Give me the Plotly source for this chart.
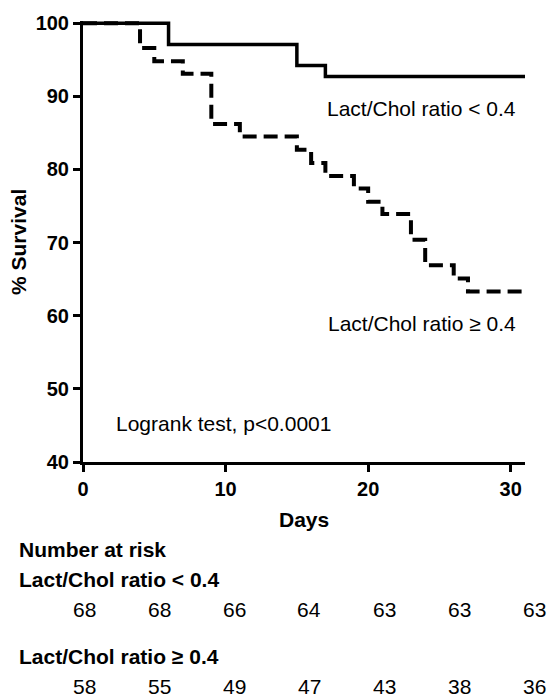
import plotly.graph_objects as go

# ---- data ----
days_low = [0, 6, 15, 17, 31]
surv_low = [100, 97.1, 94.2, 92.7, 92.7]

days_high = [0, 4, 5, 7, 9, 11, 15, 16, 17, 19, 20, 21, 23, 24, 26, 27, 31]
surv_high = [100, 96.6, 94.8, 93.1, 86.2, 84.5, 82.7, 80.9, 79.1, 77.4, 75.6, 73.9, 70.4, 66.9, 65.1, 63.3, 63.3]

x_ticks = [0, 10, 20, 30]
y_ticks = [40, 50, 60, 70, 80, 90, 100]

risk_low = [68, 68, 66, 64, 63, 63, 63]
risk_high = [58, 55, 49, 47, 43, 38, 36]

label_low = "Lact/Chol ratio < 0.4"
label_high = "Lact/Chol ratio \u2265 0.4"

FONT = "Liberation Sans, Arial, sans-serif"
FS = 21
FT = 20

W, H = 548, 699
L, R, T, B = 83, 23, 19, 237
pw = W - L - R
ph = H - T - B


def px_x(p):
    return (p - L) / pw


def px_y(p):
    return (H - B - p) / ph


fig = go.Figure()
fig.add_trace(go.Scatter(x=days_low, y=surv_low, mode="lines", line_shape="hv",
                         line=dict(color="black", width=3.5), showlegend=False,
                         hoverinfo="skip"))
fig.add_trace(go.Scatter(x=days_high, y=surv_high, mode="lines", line_shape="hv",
                         line=dict(color="black", width=4, dash="14px,7px"),
                         showlegend=False, hoverinfo="skip"))

f = dict(family=FONT, size=FS, color="black")
ann = []
ann.append(dict(x=30.5, y=88.4, xref="x", yref="y", text=label_low, showarrow=False,
                xanchor="right", yanchor="middle", font=f))
ann.append(dict(x=30.5, y=58.9, xref="x", yref="y", text=label_high, showarrow=False,
                xanchor="right", yanchor="middle", font=f))
ann.append(dict(x=2.2, y=45.2, xref="x", yref="y", text="Logrank test, p<0.0001", showarrow=False,
                xanchor="left", yanchor="middle", font=f))
# axis titles
ann.append(dict(x=15.5, y=px_y(520), xref="x", yref="paper", text="<b>Days</b>", showarrow=False,
                xanchor="center", yanchor="middle", font=f))
ann.append(dict(x=px_x(19), y=px_y(241), xref="paper", yref="paper", text="<b>% Survival</b>",
                showarrow=False, textangle=-90, xanchor="center", yanchor="middle", font=f))
# risk table
ann.append(dict(x=px_x(17), y=px_y(550), xref="paper", yref="paper", text="<b>Number at risk</b>",
                showarrow=False, xanchor="left", yanchor="middle", font=f))
ann.append(dict(x=px_x(17), y=px_y(580), xref="paper", yref="paper", text="<b>" + label_low + "</b>",
                showarrow=False, xanchor="left", yanchor="middle", font=f))
ann.append(dict(x=px_x(17), y=px_y(657), xref="paper", yref="paper", text="<b>" + label_high + "</b>",
                showarrow=False, xanchor="left", yanchor="middle", font=f))
for i, (a, b) in enumerate(zip(risk_low, risk_high)):
    cx = px_x(84 + 75 * i)
    ann.append(dict(x=cx, y=px_y(610), xref="paper", yref="paper", text=str(a), showarrow=False,
                    xanchor="center", yanchor="middle", font=f))
    ann.append(dict(x=cx, y=px_y(688), xref="paper", yref="paper", text=str(b), showarrow=False,
                    xanchor="center", yanchor="middle", font=f))

axis_common = dict(showline=True, linecolor="black", linewidth=3, ticks="outside", ticklen=7,
                   tickwidth=3, tickcolor="black", showgrid=False, zeroline=False,
                   tickfont=dict(family=FONT, size=FT, color="black"))

fig.update_layout(
    width=W, height=H,
    margin=dict(l=L, r=R, t=T, b=B, pad=0),
    paper_bgcolor="white", plot_bgcolor="white",
    xaxis=dict(range=[0, 31], tickvals=x_ticks, ticktext=["<b>%d</b>" % v for v in x_ticks], **axis_common),
    yaxis=dict(range=[40, 100.3], tickvals=y_ticks, ticktext=["<b>%d</b>" % v for v in y_ticks], **axis_common),
    annotations=ann,
    showlegend=False,
)

fig.write_html("out.html", config={"displayModeBar": False},
               post_script="document.body.style.margin='0px';document.body.style.padding='0px';")
